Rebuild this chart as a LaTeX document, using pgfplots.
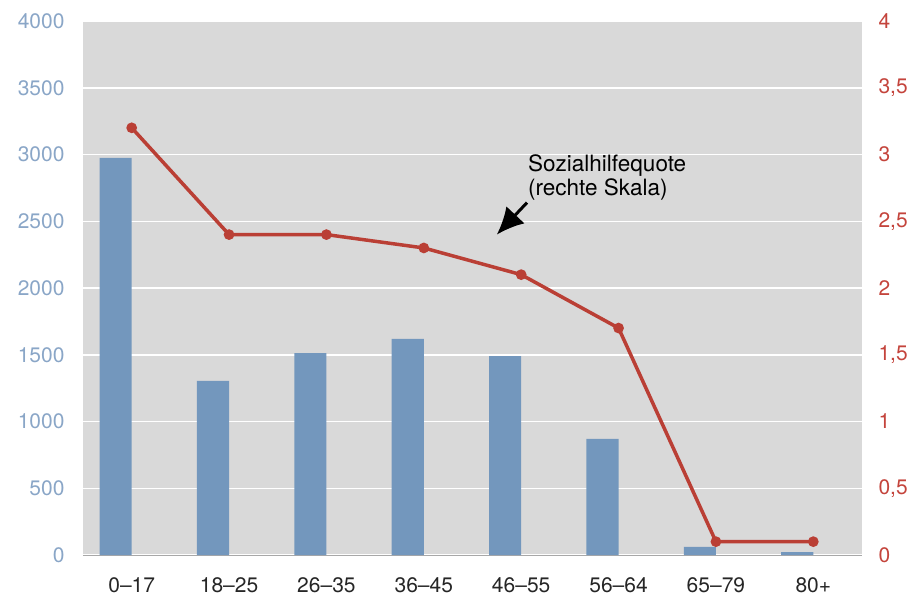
\documentclass[border=0pt]{standalone}
\usepackage{fontspec}
\setmainfont{TeX Gyre Heros}
\usepackage{pgfplots}
\pgfplotsset{compat=1.18}
\usetikzlibrary{arrows.meta}
\definecolor{barblue}{HTML}{7397BD}
\definecolor{linered}{HTML}{BA3F35}
\definecolor{leftlab}{HTML}{8AA6C7}
\definecolor{rightlab}{HTML}{C4443C}
\definecolor{bggray}{HTML}{D9D9D9}
\definecolor{axgray}{HTML}{A8A8A8}
\begin{document}
\begin{tikzpicture}
\path[use as bounding box] (-83pt,-43pt) rectangle (838pt,555pt);
\begin{axis}[
  scale only axis, width=779pt, height=534pt,
  xmin=-0.5, xmax=7.5, ymin=0, ymax=4000,
  axis background/.style={fill=bggray},
  axis x line*=bottom, axis y line*=left,
  x axis line style={-, draw=axgray, line width=1pt},
  y axis line style={draw=none},
  major tick length=0pt,
  xtick={0,...,7},
  xticklabels={0–17,18–25,26–35,36–45,46–55,56–64,65–79,80+},
  ytick={0,500,...,4000},
  ymajorgrids, major grid style={white, line width=1.5pt},
  /pgf/number format/1000 sep={},
  /pgf/number format/assume math mode=true,
  tick label style={font=\fontsize{21}{25}\selectfont},
  yticklabel style={text=leftlab, xshift=-15pt},
  xticklabel style={text=black!85, yshift=-19pt},
]
\addplot[ybar, bar width=0.33, bar shift=-0.165, fill=barblue, draw=none]
  coordinates {(0,2975) (1,1305) (2,1513) (3,1618) (4,1490) (5,869) (6,60) (7,22)};
\end{axis}
\begin{axis}[
  scale only axis, width=779pt, height=534pt,
  xmin=-0.5, xmax=7.5, ymin=0, ymax=4,
  axis x line=none, axis y line*=right,
  y axis line style={draw=none},
  major tick length=0pt,
  ytick={0,0.5,...,4},
  /pgf/number format/use comma,
  /pgf/number format/assume math mode=true,
  yticklabel style={text=rightlab, font=\fontsize{21}{25}\selectfont, xshift=13pt},
]
\addplot[linered, line width=3.5pt, mark=*, mark size=3.5pt]
  coordinates {(0,3.2) (1,2.4) (2,2.4) (3,2.3) (4,2.1) (5,1.7) (6,0.1) (7,0.1)};
\node[anchor=north west, inner sep=0pt, align=left, font=\fontsize{22.5}{24}\selectfont]
  at (axis cs:4.07,3.0) {Sozialhilfequote\\(rechte Skala)};
\draw[-{Latex[length=27pt,width=25pt]}, line width=3pt] (axis cs:4.06,2.64) -- (axis cs:3.75,2.40);
\end{axis}
\end{tikzpicture}
\end{document}
